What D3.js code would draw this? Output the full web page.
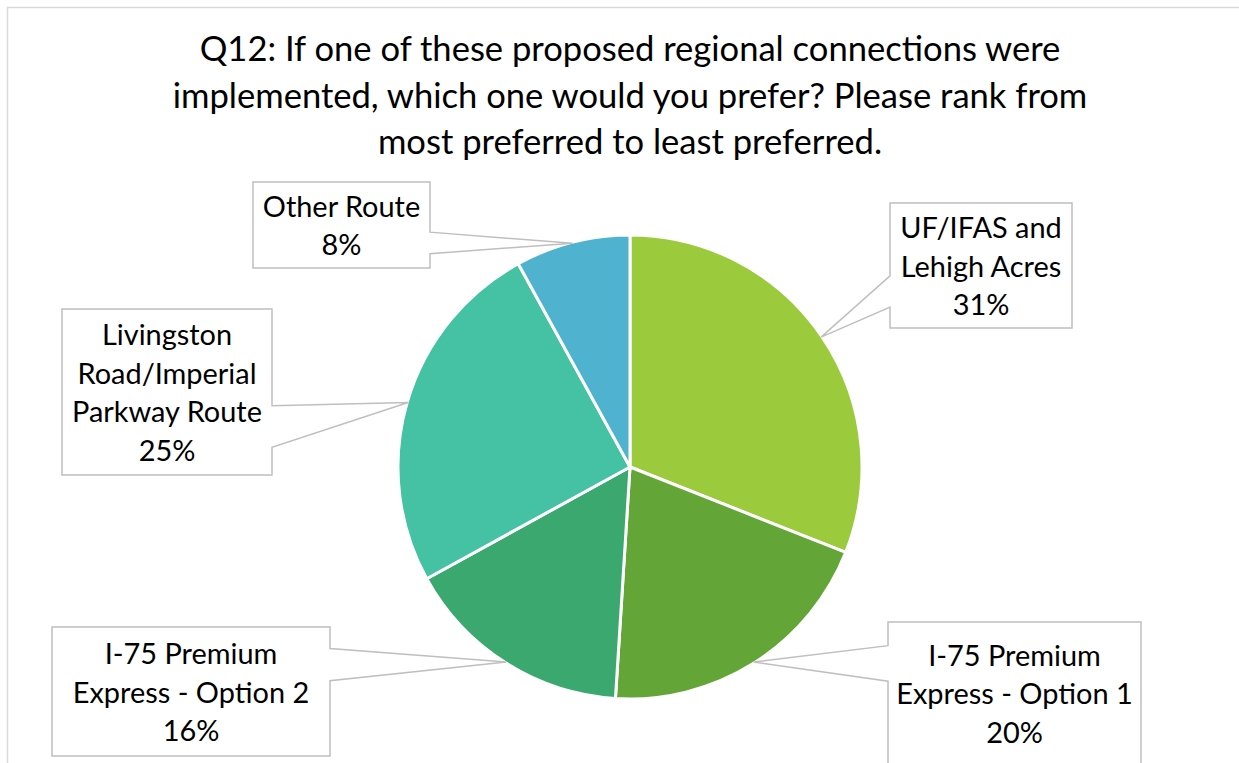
<!DOCTYPE html>
<html>
<head>
<meta charset="utf-8">
<script src="https://cdn.jsdelivr.net/npm/d3@7"></script>
<style>
  html, body { margin: 0; padding: 0; background: #fff; }
  svg { display: block; }
</style>
</head>
<body>
<svg id="chart" width="1239" height="763"></svg>
<script>
// ---- data ----
const titleLines = [
  "Q12: If one of these proposed regional connections were",
  "implemented, which one would you prefer? Please rank from",
  "most preferred to least preferred."
];
const categories = [
  "UF/IFAS and Lehigh Acres",
  "I-75 Premium Express - Option 1",
  "I-75 Premium Express - Option 2",
  "Livingston Road/Imperial Parkway Route",
  "Other Route"
];
const labelLines = [
  ["UF/IFAS and", "Lehigh Acres"],
  ["I-75 Premium", "Express - Option 1"],
  ["I-75 Premium", "Express - Option 2"],
  ["Livingston", "Road/Imperial", "Parkway Route"],
  ["Other Route"]
];
const values = [31, 20, 16, 25, 8];
const colors = ["#9BCB3C", "#63A637", "#3AA86F", "#45C1A4", "#4FB2CF"];

// ---- layout ----
const W = 1239, H = 763;
const FONT = "Lato, 'Open Sans', sans-serif";
const cx = 630, cy = 467, R = 232;
// callout boxes: center x, center y, width, height
const boxes = [
  { x: 981,   y: 265.5, w: 182, h: 125 },
  { x: 1014.5,y: 693,   w: 253, h: 142 },
  { x: 191,   y: 691.5, w: 278, h: 129 },
  { x: 167,   y: 392,   w: 210, h: 166 },
  { x: 341.5, y: 225,   w: 177, h: 86 }
];
const lineGap = 38.5;

const svg = d3.select("#chart");

// chart border
svg.append("rect")
  .attr("x", 7.5).attr("y", 7.5)
  .attr("width", W + 20).attr("height", H + 20)
  .attr("fill", "#fff").attr("stroke", "#d9d9d9").attr("stroke-width", 1.5);

// font fitting helper
function fitSize(text, target, base) {
  const t = svg.append("text").attr("font-family", FONT).attr("font-size", base).text(text);
  const w = t.node().getComputedTextLength();
  t.remove();
  return base * target / w;
}
const titleSize = fitSize(titleLines[0], 861, 30);
const labelSize = fitSize("Parkway Route", 190, 24);

// title
const titleBaselines = [61, 107.5, 154];
svg.append("g").selectAll("text").data(titleLines).join("text")
  .attr("x", 630)
  .attr("y", (d, i) => titleBaselines[i])
  .attr("text-anchor", "middle")
  .attr("font-family", FONT)
  .attr("font-size", titleSize)
  .attr("fill", "#000")
  .text(d => d);

// pie
const total = d3.sum(values);
const pie = d3.pie().sort(null).value(d => d)(values);
const arc = d3.arc().innerRadius(0).outerRadius(R);
const g = svg.append("g").attr("transform", `translate(${cx},${cy})`);
g.selectAll("path").data(pie).join("path")
  .attr("d", arc)
  .attr("fill", (d, i) => colors[i])
  .attr("stroke", "#fff")
  .attr("stroke-width", 3)
  .attr("stroke-linejoin", "round");

// callouts
const pct = d3.format(".0%");
const cg = svg.append("g");
pie.forEach((d, i) => {
  const b = boxes[i];
  const mid = (d.startAngle + d.endAngle) / 2;
  const ax = cx + Math.sin(mid) * (R - 1);
  const ay = cy - Math.cos(mid) * (R - 1);
  const left = b.x - b.w / 2, right = b.x + b.w / 2;
  const top = b.y - b.h / 2, bottom = b.y + b.h / 2;
  const below = ay > b.y;
  const f1 = below ? 7 / 12 : 2 / 12, f2 = below ? 10 / 12 : 5 / 12;
  const b1 = top + b.h * f1, b2 = top + b.h * f2;
  let p;
  if (ax > right) {
    p = [[left, top], [right, top], [right, b1], [ax, ay], [right, b2], [right, bottom], [left, bottom]];
  } else {
    p = [[left, top], [right, top], [right, bottom], [left, bottom], [left, b2], [ax, ay], [left, b1]];
  }
  cg.append("path")
    .attr("d", "M" + p.map(q => q.join(",")).join("L") + "Z")
    .attr("fill", "#fff")
    .attr("stroke", "#bfbfbf")
    .attr("stroke-width", 1.5)
    .attr("stroke-linejoin", "miter");
  const lines = labelLines[i].concat([pct(d.data / total)]);
  const n = lines.length;
  cg.append("g").selectAll("text").data(lines).join("text")
    .attr("x", b.x)
    .attr("y", (t, k) => b.y + 11 + (k - (n - 1) / 2) * lineGap)
    .attr("text-anchor", "middle")
    .attr("font-family", FONT)
    .attr("font-size", labelSize)
    .attr("fill", "#000")
    .text(t => t);
});
</script>
</body>
</html>
